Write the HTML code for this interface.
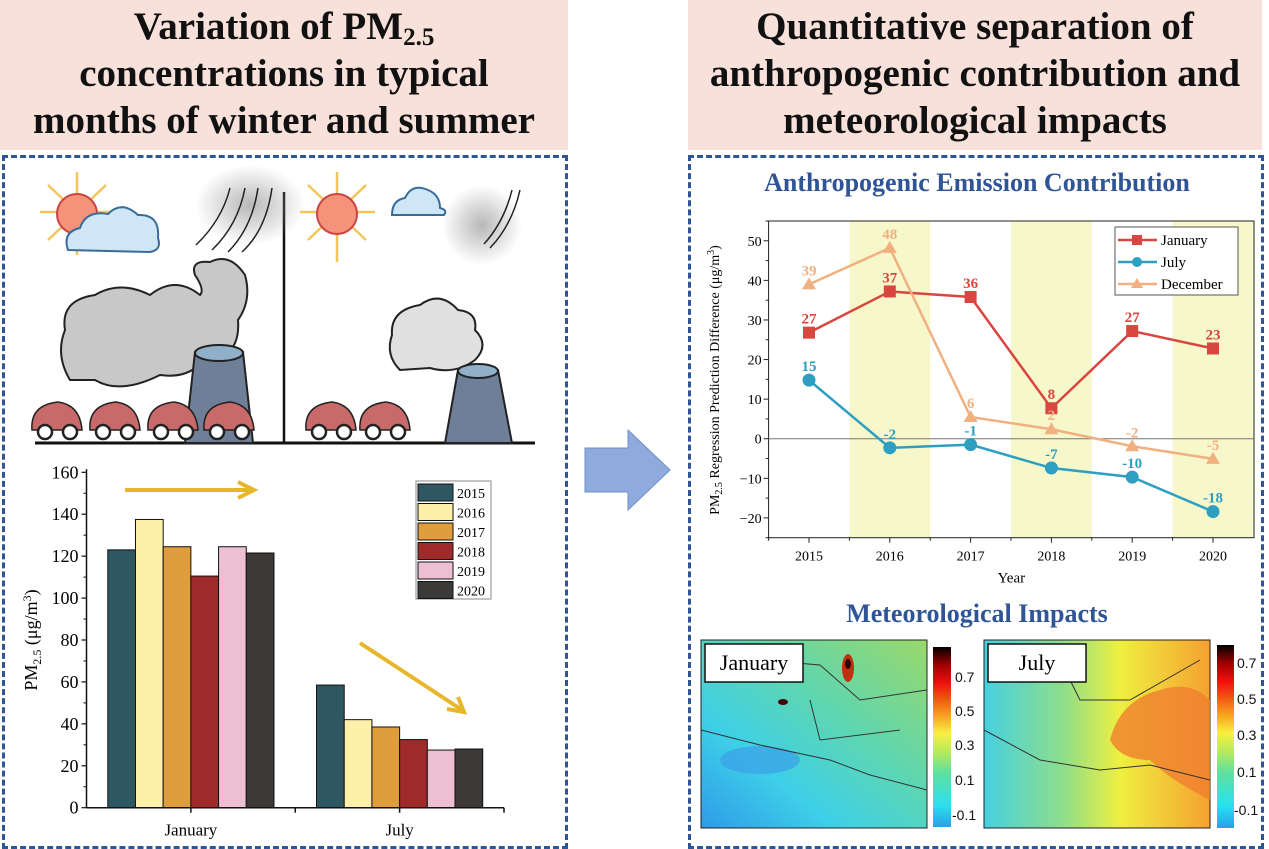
<!DOCTYPE html>
<html><head><meta charset="utf-8">
<style>
body{margin:0;width:1269px;height:849px;background:#fff;position:relative;overflow:hidden;font-family:"Liberation Serif",serif}
.hdr{position:absolute;top:0;height:150px;background:#f7e1da;text-align:center;font-weight:bold;font-size:39px;line-height:47px;color:#111;padding-top:3px;box-sizing:border-box;white-space:nowrap}
.hdr sub{font-size:25px;line-height:0;vertical-align:-6px}
.box{position:absolute;border:3px dashed #2f5597;box-sizing:border-box}
svg{position:absolute;left:0;top:0}
</style></head><body>
<div class="hdr" style="left:0;width:568px">Variation of PM<sub>2.5</sub><br>concentrations in typical<br>months of winter and summer</div>
<div class="hdr" style="left:688px;width:574px">Quantitative separation of<br>anthropogenic contribution and<br>meteorological impacts</div>
<div class="box" style="left:2px;top:155px;width:566px;height:694px"></div>
<div class="box" style="left:688px;top:155px;width:576px;height:694px"></div>

<svg width="1269" height="849" font-family="Liberation Serif, serif">
<defs>
<radialGradient id="smog"><stop offset="0" stop-color="#999" stop-opacity=".7"/><stop offset="1" stop-color="#999" stop-opacity="0"/></radialGradient>
<linearGradient id="janmap" x1="0" y1="1" x2="1" y2="0"><stop offset="0" stop-color="#2e9be8"/><stop offset=".3" stop-color="#3ed0e8"/><stop offset=".6" stop-color="#5ed6b0"/><stop offset="1" stop-color="#9ad86a"/></linearGradient>
<linearGradient id="julmap" x1="0" y1=".5" x2="1" y2=".5"><stop offset="0" stop-color="#47d0e0"/><stop offset=".35" stop-color="#8ede8a"/><stop offset=".6" stop-color="#eef040"/><stop offset="1" stop-color="#f6a030"/></linearGradient>
<linearGradient id="cbar" x1="0" y1="1" x2="0" y2="0"><stop offset="0" stop-color="#2a9ee8"/><stop offset=".12" stop-color="#2ae0f0"/><stop offset=".3" stop-color="#5ee0a0"/><stop offset=".42" stop-color="#b8ea5a"/><stop offset=".52" stop-color="#f8f040"/><stop offset=".62" stop-color="#f8a020"/><stop offset=".72" stop-color="#f05010"/><stop offset=".8" stop-color="#f01010"/><stop offset=".9" stop-color="#a00000"/><stop offset="1" stop-color="#000"/></linearGradient>
</defs>
<g>
<line x1="35" y1="443" x2="535" y2="443" stroke="#111" stroke-width="3"/>
<line x1="284" y1="192" x2="284" y2="443" stroke="#111" stroke-width="2.5"/>
<ellipse cx="250" cy="205" rx="55" ry="40" fill="url(#smog)"/>
<ellipse cx="482" cy="225" rx="40" ry="40" fill="url(#smog)"/>
<g stroke="#f2c65a" stroke-width="2.5"><line x1="40" y1="212" x2="115" y2="212"/><line x1="77" y1="172" x2="77" y2="255"/><line x1="48" y1="185" x2="106" y2="240"/><line x1="48" y1="240" x2="106" y2="185"/>
<line x1="300" y1="212" x2="375" y2="212"/><line x1="337" y1="172" x2="337" y2="262"/><line x1="308" y1="185" x2="366" y2="240"/><line x1="308" y1="240" x2="366" y2="185"/></g>
<circle cx="77" cy="214" r="20" fill="#f4937a" stroke="#c94545" stroke-width="2"/>
<circle cx="337" cy="214" r="20" fill="#f4937a" stroke="#c94545" stroke-width="2"/>
<path d="M68 250 Q62 232 80 228 Q86 210 108 214 Q122 200 138 215 Q160 214 158 238 Q162 250 150 252 Z" fill="#cfe6f7" stroke="#3a6c98" stroke-width="2"/>
<path d="M392 215 Q392 200 405 198 Q412 183 428 190 Q440 195 440 208 Q448 210 444 215 Z" fill="#cfe6f7" stroke="#3a6c98" stroke-width="2"/>
<g fill="none" stroke="#222" stroke-width="1.5"><path d="M230 188 Q222 220 196 245"/><path d="M245 188 Q238 225 212 250"/><path d="M258 188 Q252 228 228 252"/><path d="M272 188 Q266 230 242 252"/><path d="M520 190 Q512 225 490 248"/><path d="M512 190 Q504 222 484 244"/></g>
<path d="M70 380 Q55 355 65 330 Q60 300 95 295 Q120 280 150 295 Q175 275 200 295 Q205 290 195 275 Q190 260 210 262 Q230 252 245 275 Q252 300 238 320 Q240 345 225 355 Q210 360 210 350 Q195 380 160 375 Q120 395 95 380 Z" fill="#c8c8c8" stroke="#222" stroke-width="2"/>
<path d="M400 370 Q385 355 392 335 Q390 310 420 305 Q440 290 458 310 Q478 312 475 330 Q490 345 475 360 Q455 375 430 368 Z" fill="#e0e0e0" stroke="#222" stroke-width="2"/>
<path d="M195 352 L243 352 L253 443 L185 443 Z" fill="#6f7f97" stroke="#222" stroke-width="2"/>
<ellipse cx="219" cy="353" rx="24" ry="8" fill="#8fb0c8" stroke="#222" stroke-width="2"/>
<path d="M458 370 L498 370 L512 443 L445 443 Z" fill="#6f7f97" stroke="#222" stroke-width="2"/>
<ellipse cx="478" cy="371" rx="20" ry="7" fill="#8fb0c8" stroke="#222" stroke-width="2"/>
<g fill="#c96a6a" stroke="#222" stroke-width="1.5">
<path d="M32 430 Q30 405 58 402 Q80 405 82 430 Z"/><path d="M90 430 Q88 405 116 402 Q138 405 140 430 Z"/><path d="M148 430 Q146 405 174 402 Q196 405 198 430 Z"/><path d="M204 430 Q202 405 230 402 Q252 405 254 430 Z"/><path d="M306 430 Q304 405 332 402 Q354 405 356 430 Z"/><path d="M360 430 Q358 405 386 402 Q408 405 410 430 Z"/></g>
<g fill="#fff" stroke="#222" stroke-width="2.5"><circle cx="45" cy="432" r="7"/><circle cx="70" cy="432" r="7"/><circle cx="103" cy="432" r="7"/><circle cx="128" cy="432" r="7"/><circle cx="161" cy="432" r="7"/><circle cx="186" cy="432" r="7"/><circle cx="217" cy="432" r="7"/><circle cx="242" cy="432" r="7"/><circle cx="319" cy="432" r="7"/><circle cx="344" cy="432" r="7"/><circle cx="373" cy="432" r="7"/><circle cx="398" cy="432" r="7"/></g>
</g>
<path d="M585 448 L628 448 L628 430 L670 470 L628 510 L628 492 L585 492 Z" fill="#8faadc" stroke="#6f8fc8" stroke-width="1"/>
<g id="bar"></g>
<g id="line"></g>
<text x="977" y="622" text-anchor="middle" font-size="26" font-weight="bold" fill="#2f5597">Meteorological Impacts</text>
<g>
<rect x="701" y="640" width="226" height="188" fill="url(#janmap)" stroke="#222"/>
<ellipse cx="760" cy="760" rx="40" ry="14" fill="#3aa0e8" opacity=".7"/>
<ellipse cx="848" cy="668" rx="6" ry="14" fill="#c03010"/><ellipse cx="848" cy="664" rx="3" ry="5" fill="#300"/>
<ellipse cx="783" cy="702" rx="5" ry="3" fill="#400"/>
<path d="M701 730 L760 745 L830 760 L870 775 L927 790 M760 660 L820 665 L860 700 L927 690 M810 700 L820 740 L900 730" fill="none" stroke="#333" stroke-width="1"/>
<rect x="705" y="644" width="98" height="38" fill="#fff" stroke="#111" stroke-width="1.5"/>
<text x="754" y="670" text-anchor="middle" font-size="22">January</text>
<rect x="933" y="647" width="18" height="180" fill="url(#cbar)"/>
</g>
<g>
<rect x="984" y="640" width="226" height="188" fill="url(#julmap)" stroke="#222"/>
<path d="M1110 740 Q1120 700 1160 690 Q1190 680 1210 700 L1210 800 Q1170 780 1150 760 Q1120 760 1110 740 Z" fill="#f08030" opacity=".8"/>
<path d="M984 730 L1040 760 L1100 770 L1150 765 L1210 780 M1060 660 L1080 700 L1130 700 L1200 660" fill="none" stroke="#333" stroke-width="1"/>
<rect x="988" y="644" width="98" height="38" fill="#fff" stroke="#111" stroke-width="1.5"/>
<text x="1037" y="670" text-anchor="middle" font-size="22">July</text>
<rect x="1217" y="645" width="17" height="183" fill="url(#cbar)"/>
</g>
<g font-family="Liberation Sans, sans-serif" font-size="14" fill="#111">
<text x="955" y="682">0.7</text><text x="955" y="716">0.5</text><text x="955" y="750">0.3</text><text x="955" y="785">0.1</text><text x="952" y="820">-0.1</text>
<text x="1237" y="668">0.7</text><text x="1237" y="704">0.5</text><text x="1237" y="740">0.3</text><text x="1237" y="777">0.1</text><text x="1234" y="815">-0.1</text>
</g>
</svg>
<script>
const NS="http://www.w3.org/2000/svg";
function mk(p,t,a,txt){const e=document.createElementNS(NS,t);for(const k in a)e.setAttribute(k,a[k]);if(txt!=null)e.textContent=txt;p.appendChild(e);return e;}
const barGroups=["January","July"];
const barYears=["2015","2016","2017","2018","2019","2020"];
const barColors=["#2f5763","#fdf1aa","#e09d3e","#9e2a2b","#ecbfd2","#3b3a39"];
const janVals=[123,137.5,124.5,110.5,124.5,121.5];
const julVals=[58.5,42,38.5,32.5,27.5,28];
const barTicks=[0,20,40,60,80,100,120,140,160];
(function(){
 const g=document.getElementById('bar');
 const X0=86.5,X1=504,Y0=807.7,Ytop=472.3;
 const y=v=>Y0-(v/160)*(Y0-Ytop);
 const gw=(X1-X0)/2, bw=27.7;
 const gc=i=>X0+gw*(i+0.5);
 [janVals,julVals].forEach((vals,gi)=>{
  vals.forEach((v,j)=>{
   const x=gc(gi)-bw*3+j*bw;
   const r=mk(g,'rect',{x:x,y:y(v),width:bw,height:Y0-y(v),fill:barColors[j],stroke:'#111','stroke-width':1});
   
   
  });
  const t=mk(g,'text',{x:gc(gi),y:Y0+28,'text-anchor':'middle','font-size':17},barGroups[gi]);
  
  
 });
 mk(g,'line',{x1:X0,y1:Y0,x2:X1,y2:Y0,stroke:'#111','stroke-width':1.5});
 mk(g,'line',{x1:X0,y1:Y0,x2:X0,y2:Ytop-3,stroke:'#111','stroke-width':1.5});
 [gc(0),X0+gw,gc(1),X1].forEach(x=>mk(g,'line',{x1:x,y1:Y0,x2:x,y2:Y0+5,stroke:'#111','stroke-width':1.5}));
 barTicks.forEach(v=>{
  mk(g,'line',{x1:X0-5,y1:y(v),x2:X0,y2:y(v),stroke:'#111','stroke-width':1.2});
  if(v<160)mk(g,'line',{x1:X0-3,y1:y(v+10),x2:X0,y2:y(v+10),stroke:'#111','stroke-width':1});
  const t=mk(g,'text',{x:X0-8,y:y(v)+6,'text-anchor':'end','font-size':18},String(v));
  
  
 });
 const yt=mk(g,'text',{transform:'translate(37,640) rotate(-90)','text-anchor':'middle','font-size':18});
 
 
 yt.innerHTML='PM<tspan font-size="12" dy="4">2.5</tspan><tspan dy="-4"> (μg/m</tspan><tspan font-size="12" dy="-6">3</tspan><tspan dy="6">)</tspan>';
 const lg=mk(g,'g',{});
 
 
 mk(lg,'rect',{x:416,y:481,width:75,height:118,fill:'#fff',stroke:'#888'});
 barYears.forEach((yr,j)=>{
  mk(lg,'rect',{x:418,y:484+j*19.5,width:35,height:17,fill:barColors[j],stroke:'#111'});
  const t=mk(lg,'text',{x:457,y:498+j*19.5,'font-size':14},yr);
  
  
 });
 mk(g,'path',{d:'M125 490 L250 490 M238 482 L254 490 L238 498',stroke:'#e8b62a','stroke-width':4,fill:'none'});
 mk(g,'path',{d:'M360 643 L462 710 M447 709 L464 712 L458 697',stroke:'#e8b62a','stroke-width':4,fill:'none'});
})();
const lineYears=["2015","2016","2017","2018","2019","2020"];
const janLine=[26.8,37.2,35.8,7.7,27.2,22.8];
const julLine=[14.8,-2.3,-1.5,-7.4,-9.7,-18.4];
const decLine=[39,48.2,5.5,2.4,-1.9,-5.1];
const janLbl=["27","37","36","8","27","23"];
const julLbl=["15","-2","-1","-7","-10","-18"];
const decLbl=["39","48","6","2","-2","-5"];
const lineTicks=[-20,-10,0,10,20,30,40,50];
(function(){
 const g=document.getElementById('line');
 const L=768.6,R=1254,T=221,B=537.7,vmin=-25,vmax=55;
 const y=v=>B-(v-vmin)/(vmax-vmin)*(B-T);
 const x0=809,dx=80.8;const x=i=>x0+i*dx;
 const tt=mk(g,'text',{x:977,y:191,'text-anchor':'middle','font-size':26,'font-weight':'bold',fill:'#2f5597'},'Anthropogenic Emission Contribution');
 
 
 [1,3,5].forEach(i=>mk(g,'rect',{x:x(i)-dx/2,y:T,width:Math.min(dx,R-(x(i)-dx/2)),height:B-T,fill:'#f7f7cc'}));
 mk(g,'rect',{x:L,y:T,width:R-L,height:B-T,fill:'none',stroke:'#222','stroke-width':1});
 mk(g,'line',{x1:L,y1:y(0),x2:R,y2:y(0),stroke:'#777','stroke-width':1});
 lineTicks.forEach(v=>{
  mk(g,'line',{x1:L-5,y1:y(v),x2:L,y2:y(v),stroke:'#222'});
  mk(g,'line',{x1:L-3,y1:y(v+5),x2:L,y2:y(v+5),stroke:'#222'});
  const t=mk(g,'text',{x:L-7,y:y(v)+5,'text-anchor':'end','font-size':14},v<0?'\u2212'+(-v):String(v));
  
  
 });
 mk(g,'line',{x1:L-3,y1:y(-25),x2:L,y2:y(-25),stroke:'#222'});
 lineYears.forEach((yr,i)=>{
  mk(g,'line',{x1:x(i),y1:B,x2:x(i),y2:B+5,stroke:'#222'});
  mk(g,'line',{x1:x(i)-dx/2,y1:B,x2:x(i)-dx/2,y2:B+3,stroke:'#222'});
  const t=mk(g,'text',{x:x(i),y:B+23,'text-anchor':'middle','font-size':14},yr);
  
  
 });
 const xt=mk(g,'text',{x:(L+R)/2,y:B+45,'text-anchor':'middle','font-size':15},'Year');
 
 
 const yt=mk(g,'text',{transform:'translate(719,380) rotate(-90)','text-anchor':'middle','font-size':14});
 
 
 yt.innerHTML='PM<tspan font-size="10" dy="3">2.5</tspan><tspan dy="-3"> Regression Prediction Difference (μg/m</tspan><tspan font-size="10" dy="-5">3</tspan><tspan dy="5">)</tspan>';
 const series=[["january",janLine,janLbl,"#d9453f","sq",-9],["july",julLine,julLbl,"#2e9fc1","ci",-9],["december",decLine,decLbl,"#f1b07f","tr",-9]];
 series.forEach(([nm,vals,lbls,col,mkr,off])=>{
  const pl=mk(g,'polyline',{points:vals.map((v,i)=>x(i)+','+y(v)).join(' '),fill:'none',stroke:col,'stroke-width':2.5});
  
  
  vals.forEach((v,i)=>{
   const cx=x(i),cy=y(v);let m;
   if(mkr==='sq')m=mk(g,'rect',{x:cx-6,y:cy-6,width:12,height:12,fill:col});
   else if(mkr==='ci')m=mk(g,'circle',{cx:cx,cy:cy,r:6.5,fill:col});
   else m=mk(g,'path',{d:`M${cx} ${cy-7} L${cx+7} ${cy+5} L${cx-7} ${cy+5}Z`,fill:col});
   
   
   const t=mk(g,'text',{x:cx,y:cy+off,'text-anchor':'middle','font-size':15,'font-weight':'bold',fill:col},lbls[i]);
   
   
  });
 });
 const lg=mk(g,'g',{});
 
 
 mk(lg,'rect',{x:1115,y:227,width:123,height:68,fill:'#fff',stroke:'#555'});
 series.forEach(([nm,,,col,mkr],k)=>{
  const yy=240+k*22;
  mk(lg,'line',{x1:1118,y1:yy,x2:1157,y2:yy,stroke:col,'stroke-width':2.5});
  if(mkr==='sq')mk(lg,'rect',{x:1132,y:yy-5,width:10,height:10,fill:col});
  else if(mkr==='ci')mk(lg,'circle',{cx:1137,cy:yy,r:5,fill:col});
  else mk(lg,'path',{d:`M1137 ${yy-6} L1143 ${yy+4} L1131 ${yy+4}Z`,fill:col});
  const t=mk(lg,'text',{x:1161,y:yy+5,'font-size':15},nm[0].toUpperCase()+nm.slice(1));
  
  
 });
})();
</script>
</body></html>
